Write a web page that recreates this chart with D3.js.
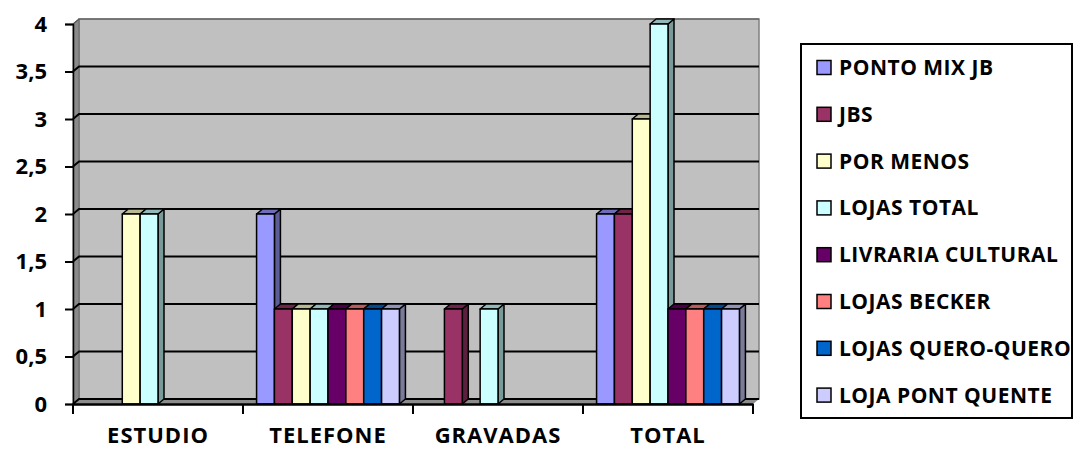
<!DOCTYPE html>
<html>
<head>
<meta charset="utf-8">
<script src="https://d3js.org/d3.v7.min.js"></script>
<style>
  body { margin: 0; background: #fff; }
  text { font-family: "Open Sans", sans-serif; font-weight: bold; fill: #000; }
</style>
</head>
<body>
<div id="chart"></div>
<script>
var categories = ["ESTUDIO", "TELEFONE", "GRAVADAS", "TOTAL"]
var seriesNames = ["PONTO MIX JB", "JBS", "POR MENOS", "LOJAS TOTAL", "LIVRARIA CULTURAL", "LOJAS BECKER", "LOJAS QUERO-QUERO", "LOJA PONT QUENTE"]
var seriesColors = ["#9999FF", "#993366", "#FFFFCC", "#CCFFFF", "#660066", "#FF8080", "#0066CC", "#CCCCFF"]
// one array per series, values in category order
var pontoMix = [0, 2, 0, 2]
var jbs = [0, 1, 1, 2]
var porMenos = [2, 1, 0, 3]
var lojasTotal = [2, 1, 1, 4]
var livraria = [0, 1, 0, 1]
var becker = [0, 1, 0, 1]
var queroQuero = [0, 1, 0, 1]
var pontQuente = [0, 1, 0, 1]
var seriesValues = [pontoMix, jbs, porMenos, lojasTotal, livraria, becker, queroQuero, pontQuente]
var yTicks = [0, 0.5, 1, 1.5, 2, 2.5, 3, 3.5, 4]

var width = 1074, height = 450
var depthX = 6, depthY = 5

var svg = d3.select("#chart").append("svg")
    .attr("width", width)
    .attr("height", height)

var x = d3.scaleBand()
    .domain(categories)
    .range([73, 753])

var xInner = d3.scaleBand()
    .domain(seriesNames)
    .range([0, x.bandwidth()])
    .paddingOuter(0.76)

var y = d3.scaleLinear()
    .domain([0, 4])
    .range([404, 24])

var left = x.range()[0], right = x.range()[1]

// back wall
svg.append("rect")
    .attr("x", left + depthX)
    .attr("y", y(4) - depthY)
    .attr("width", right - left)
    .attr("height", y(0) - y(4))
    .attr("fill", "#C0C0C0")
    .attr("stroke", "#808080")
    .attr("stroke-width", 1.5)

// left wall
svg.append("path")
    .attr("d", "M" + left + "," + y(0) + "L" + left + "," + y(4) + "L" + (left + depthX) + "," + (y(4) - depthY) + "L" + (left + depthX) + "," + (y(0) - depthY) + "Z")
    .attr("fill", "#8a8a8a")
    .attr("stroke", "#666")
    .attr("stroke-width", 1)

// floor
svg.append("path")
    .attr("d", "M" + left + "," + y(0) + "L" + right + "," + y(0) + "L" + (right + depthX) + "," + (y(0) - depthY) + "L" + (left + depthX) + "," + (y(0) - depthY) + "Z")
    .attr("fill", "#8c8c8c")

// gridlines on wall
yTicks.forEach(function(t) {
    svg.append("path")
        .attr("d", "M" + left + "," + y(t) + "L" + (left + depthX) + "," + (y(t) - depthY) + "L" + (right + depthX) + "," + (y(t) - depthY))
        .attr("fill", "none")
        .attr("stroke", t == 4 ? "#555" : "#000")
        .attr("stroke-width", t == 4 ? 1.2 : 2)
})

// bars, drawn left to right so faces overlap like the 3D original
categories.forEach(function(cat, ci) {
    seriesNames.forEach(function(name, si) {
        var v = seriesValues[si][ci]
        if (v == 0) return
        var x0 = x(cat) + xInner(name)
        var x1 = x0 + xInner.bandwidth()
        var yt = y(v), yb = y(0)
        var c = d3.color(seriesColors[si])
        var top = d3.rgb(c.r * 0.72, c.g * 0.72, c.b * 0.72)
        var side = d3.rgb(c.r * 0.6, c.g * 0.6, c.b * 0.6)
        var g = svg.append("g")
            .attr("stroke", "#000")
            .attr("stroke-width", 1.5)
            .attr("stroke-linejoin", "round")
        g.append("path")
            .attr("d", "M" + x1 + "," + yt + "L" + (x1 + depthX) + "," + (yt - depthY) + "L" + (x1 + depthX) + "," + (yb - depthY) + "L" + x1 + "," + yb + "Z")
            .attr("fill", side)
        g.append("path")
            .attr("d", "M" + x0 + "," + yt + "L" + (x0 + depthX) + "," + (yt - depthY) + "L" + (x1 + depthX) + "," + (yt - depthY) + "L" + x1 + "," + yt + "Z")
            .attr("fill", top)
        g.append("rect")
            .attr("x", x0)
            .attr("y", yt)
            .attr("width", x1 - x0)
            .attr("height", yb - yt)
            .attr("fill", seriesColors[si])
    })
})

// axes
var yAxis = d3.axisLeft(y)
    .tickValues(yTicks)
    .tickSize(8)
    .tickPadding(18)
    .tickFormat(function(d) { return String(d).replace(".", ",") })

var yg = svg.append("g")
    .attr("transform", "translate(" + left + ",0)")
    .call(yAxis)
yg.select(".domain").attr("stroke", "#000").attr("stroke-width", 1.5)
yg.selectAll(".tick line").attr("stroke", "#000").attr("stroke-width", 2)
yg.selectAll(".tick text").attr("font-size", "22px").attr("font-family", "Open Sans").attr("font-weight", "bold")

var xAxis = d3.axisBottom(x)
    .tickSize(0)
    .tickPadding(23)

var xg = svg.append("g")
    .attr("transform", "translate(0," + y(0) + ")")
    .call(xAxis)
xg.select(".domain").attr("stroke", "#000").attr("stroke-width", 2.5)
xg.selectAll(".tick text")
    .attr("font-size", "22px")
    .attr("font-family", "Open Sans")
    .attr("font-weight", "bold")
    .attr("letter-spacing", "1px")

// category boundary ticks
var bounds = categories.map(function(c) { return x(c) }).concat([right])
xg.selectAll(".bound")
    .data(bounds)
  .enter().append("line")
    .attr("x1", function(d) { return d })
    .attr("x2", function(d) { return d })
    .attr("y1", 0)
    .attr("y2", 10)
    .attr("stroke", "#000")
    .attr("stroke-width", 2)

// legend
var legend = svg.append("g")
legend.append("rect")
    .attr("x", 801)
    .attr("y", 44)
    .attr("width", 271)
    .attr("height", 374)
    .attr("fill", "#fff")
    .attr("stroke", "#000")
    .attr("stroke-width", 2)

seriesNames.forEach(function(name, i) {
    var cy = 67.5 + i * 46.8
    legend.append("rect")
        .attr("x", 817)
        .attr("y", cy - 7)
        .attr("width", 14)
        .attr("height", 14)
        .attr("fill", seriesColors[i])
        .attr("stroke", "#000")
        .attr("stroke-width", 1.5)
    legend.append("text")
        .attr("x", 839)
        .attr("y", cy)
        .attr("dy", "0.36em")
        .attr("font-size", "21px")
        .attr("letter-spacing", "0.5px")
        .text(name)
})
</script>
</body>
</html>
